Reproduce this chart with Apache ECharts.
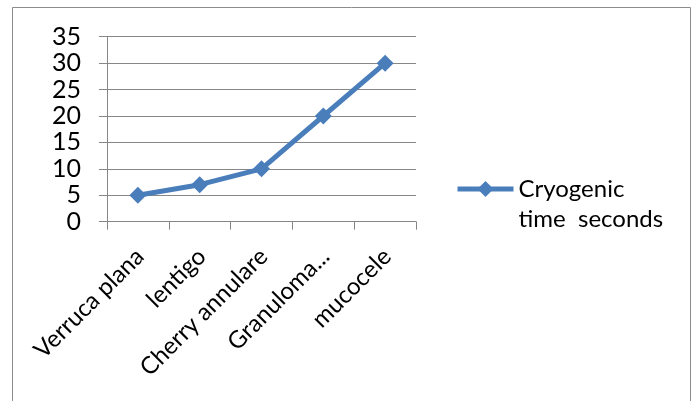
<!DOCTYPE html>
<html>
<head>
<meta charset="utf-8">
<script src="https://cdn.jsdelivr.net/npm/echarts@6/dist/echarts.min.js"></script>
<style>
  html, body { margin: 0; padding: 0; background: #ffffff; }
  #chart { width: 697px; height: 401px; }
</style>
</head>
<body>
<div id="chart"></div>
<script>
// Lesion types and the freezing time used for each
const categories = ['Verruca plana', 'lentigo', 'Cherry annulare', 'Granuloma...', 'mucocele'];
const cryoSeconds = [5, 7, 10, 20, 30];
const seriesName = 'Cryogenic time  seconds';
const legendLines = ['Cryogenic', 'time  seconds'];
const yTicks = { min: 0, max: 35, step: 5 };

const FONT = 'Lato, "Open Sans", sans-serif';
const BLUE = '#4a7ebb';
const GRID = '#878787';

const chart = echarts.init(document.getElementById('chart'), null, { renderer: 'canvas' });

chart.setOption({
  animation: false,
  backgroundColor: '#ffffff',
  graphic: [{
    type: 'rect',
    shape: { x: 12.5, y: 7.5, width: 678, height: 420 },
    style: { fill: 'none', stroke: '#8c8c8c', lineWidth: 1 },
    silent: true
  }],
  grid: { left: 107, right: 281, top: 36.7, bottom: 179.3, containLabel: false },
  legend: {
    data: [seriesName],
    left: 455,
    top: 144,
    padding: 0,
    itemWidth: 56,
    itemHeight: 20,
    itemGap: 0,
    lineStyle: { width: 5 },
    // a blank first line keeps the first text line level with the icon
    formatter: () => ' \n' + legendLines.join('\n'),
    textStyle: {
      fontFamily: FONT,
      fontSize: 24,
      color: '#000',
      lineHeight: 30
    }
  },
  xAxis: {
    type: 'category',
    data: categories,
    boundaryGap: true,
    axisLine: { lineStyle: { color: GRID, width: 1 } },
    axisTick: { show: true, length: 8, alignWithLabel: false, lineStyle: { color: GRID } },
    axisLabel: {
      interval: 0,
      rotate: 45,
      margin: 16,
      verticalAlign: 'top',
      padding: [0, 9, 0, 0],
      fontFamily: FONT,
      fontSize: 24,
      color: '#000'
    },
    splitLine: { show: false }
  },
  yAxis: {
    type: 'value',
    min: yTicks.min,
    max: yTicks.max,
    interval: yTicks.step,
    axisLine: { show: true, lineStyle: { color: GRID, width: 1 } },
    axisTick: { show: true, length: 8, lineStyle: { color: GRID } },
    axisLabel: {
      margin: 26,
      fontFamily: FONT,
      fontSize: 25,
      color: '#000'
    },
    splitLine: { show: true, lineStyle: { color: GRID, width: 1 } }
  },
  series: [{
    name: seriesName,
    type: 'line',
    data: cryoSeconds,
    symbol: 'diamond',
    symbolSize: 17,
    lineStyle: { color: BLUE, width: 5 },
    itemStyle: { color: BLUE },
    z: 3
  }]
});
</script>
</body>
</html>
